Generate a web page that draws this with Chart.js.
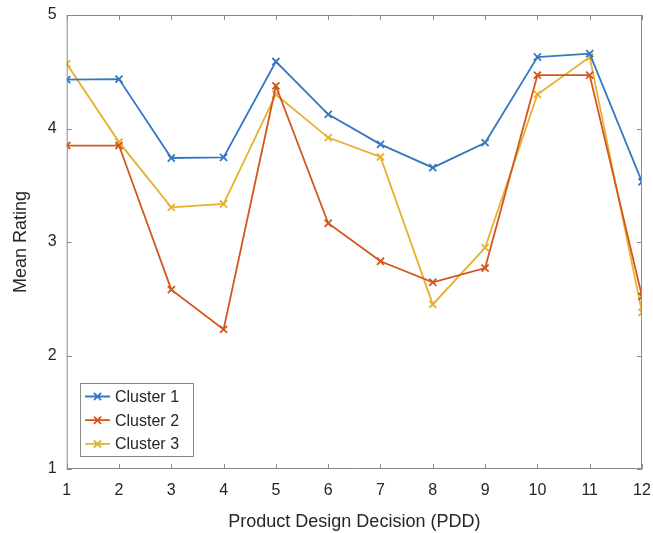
<!DOCTYPE html>
<html>
<head>
<meta charset="utf-8">
<script src="https://cdn.jsdelivr.net/npm/chart.js@4.4.1/dist/chart.umd.min.js"></script>
<style>
  html, body { margin: 0; padding: 0; background: #fff; }
  #wrap { width: 653px; height: 533px; }
</style>
</head>
<body>
<div id="wrap"><canvas id="c"></canvas></div>
<script>
const pdd = [1, 2, 3, 4, 5, 6, 7, 8, 9, 10, 11, 12];
const cluster1 = [4.43, 4.435, 3.74, 3.745, 4.59, 4.125, 3.86, 3.655, 3.875, 4.63, 4.66, 3.53];
const cluster2 = [3.85, 3.85, 2.58, 2.23, 4.375, 3.165, 2.83, 2.645, 2.77, 4.47, 4.47, 2.52];
const cluster3 = [4.57, 3.88, 3.305, 3.335, 4.30, 3.92, 3.75, 2.45, 2.95, 4.30, 4.63, 2.38];
const seriesNames = ['Cluster 1', 'Cluster 2', 'Cluster 3'];
const seriesColors = ['#3477c2', '#d4561c', '#e6b12e'];

const axisColor = '#8a8a8a';
const textColor = '#262626';
const fontFamily = '"Liberation Sans", Arial, Helvetica, sans-serif';

function makeSet(i, vals) {
  return {
    label: seriesNames[i],
    data: pdd.map((x, k) => ({ x: x, y: vals[k] })),
    borderColor: seriesColors[i],
    backgroundColor: seriesColors[i],
    borderWidth: 1.8,
    pointStyle: 'crossRot',
    pointRadius: 5,
    pointBorderWidth: 1.8,
    pointHoverRadius: 5,
    tension: 0
  };
}

// box, inward ticks and legend, MATLAB style
const matlabBox = {
  id: 'matlabBox',
  afterDraw(chart) {
    const ctx = chart.ctx;
    const a = chart.chartArea;
    const xs = chart.scales.x, ys = chart.scales.y;
    const tl = 5;
    ctx.save();
    ctx.strokeStyle = axisColor;
    ctx.lineWidth = 1;
    ctx.beginPath();
    ctx.rect(a.left + 0.5, a.top + 0.5, a.right - a.left - 1, a.bottom - a.top - 1);
    xs.ticks.forEach(t => {
      const px = Math.round(xs.getPixelForValue(t.value)) + 0.5;
      ctx.moveTo(px, a.bottom); ctx.lineTo(px, a.bottom - tl);
      ctx.moveTo(px, a.top); ctx.lineTo(px, a.top + tl);
    });
    ys.ticks.forEach(t => {
      const py = Math.round(ys.getPixelForValue(t.value)) + 0.5;
      ctx.moveTo(a.left, py); ctx.lineTo(a.left + tl, py);
      ctx.moveTo(a.right, py); ctx.lineTo(a.right - tl, py);
    });
    ctx.stroke();

    // legend
    const lx = 80, ly = 383, lw = 113, lh = 73;
    ctx.fillStyle = '#fff';
    ctx.fillRect(lx, ly, lw, lh);
    ctx.strokeStyle = axisColor;
    ctx.strokeRect(lx + 0.5, ly + 0.5, lw, lh);
    ctx.font = '16px ' + fontFamily;
    ctx.textBaseline = 'middle';
    chart.data.datasets.forEach((ds, i) => {
      const cy = ly + 13.5 + i * 23.7;
      ctx.strokeStyle = ds.borderColor;
      ctx.lineWidth = 1.8;
      ctx.beginPath();
      ctx.moveTo(lx + 5, cy); ctx.lineTo(lx + 30, cy);
      const mx = lx + 17.5, r = 3.6;
      ctx.moveTo(mx - r, cy - r); ctx.lineTo(mx + r, cy + r);
      ctx.moveTo(mx - r, cy + r); ctx.lineTo(mx + r, cy - r);
      ctx.stroke();
      ctx.fillStyle = textColor;
      ctx.fillText(ds.label, lx + 35, cy + 1);
    });
    ctx.restore();
  }
};

new Chart(document.getElementById('c'), {
  type: 'line',
  data: {
    datasets: [makeSet(0, cluster1), makeSet(1, cluster2), makeSet(2, cluster3)]
  },
  options: {
    responsive: true,
    maintainAspectRatio: false,
    animation: false,
    layout: { padding: { top: 15, right: 11, left: 0, bottom: 0 } },
    plugins: { legend: { display: false }, tooltip: { enabled: false } },
    scales: {
      x: {
        type: 'linear',
        min: 1, max: 12,
        grid: { display: false, drawTicks: false },
        border: { display: false },
        ticks: { stepSize: 1, padding: 12, color: textColor, font: { family: fontFamily, size: 16 } },
        title: { display: true, text: 'Product Design Decision (PDD)', color: textColor,
                 font: { family: fontFamily, size: 18 }, padding: { top: 0, bottom: 0 } },
        afterFit(s) { s.height = 64; s.paddingLeft = 0; s.paddingRight = 0; }
      },
      y: {
        min: 1, max: 5,
        grid: { display: false, drawTicks: false },
        border: { display: false },
        ticks: { stepSize: 1, padding: 10, color: textColor, font: { family: fontFamily, size: 16 } },
        title: { display: true, text: 'Mean Rating', color: textColor,
                 font: { family: fontFamily, size: 18 }, padding: { top: 10, bottom: 0 } },
        afterFit(s) { s.width = 66.7; s.paddingTop = 0; s.paddingBottom = 0; }
      }
    }
  },
  plugins: [matlabBox]
});
</script>
</body>
</html>
